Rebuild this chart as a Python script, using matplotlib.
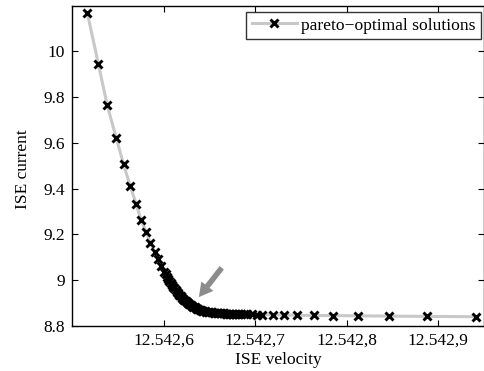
import numpy as np
import matplotlib.pyplot as plt

plt.rcParams['font.family'] = ['Liberation Serif', 'DejaVu Serif']

# pareto front (ISE velocity, ISE current)
ise_velocity = [
    12.54251678, 12.54252884, 12.54253838, 12.54254825, 12.54255625, 12.54256360,
    12.54257018, 12.54257533, 12.54258114, 12.54258553, 12.54259024, 12.54259397,
    12.54259759, 12.54260088, 12.54260250, 12.54260384, 12.54260520, 12.54260640,
    12.54260780, 12.54260910, 12.54261050, 12.54261180, 12.54261320, 12.54261460,
    12.54261600, 12.54261730, 12.54261870, 12.54262010, 12.54262150, 12.54262280,
    12.54262420, 12.54262550, 12.54262690, 12.54262830, 12.54262960, 12.54263100,
    12.54263240, 12.54263380, 12.54263520, 12.54263650, 12.54263790, 12.54263930,
    12.54264070, 12.54264200, 12.54264340, 12.54264470, 12.54264640, 12.54264800,
    12.54264970, 12.54265130, 12.54265300, 12.54265460, 12.54265630, 12.54265790,
    12.54265950, 12.54266120, 12.54266280, 12.54266450, 12.54266610, 12.54266780,
    12.54266940, 12.54267110, 12.54267270, 12.54267430, 12.54267600, 12.54267760,
    12.54267930, 12.54268090, 12.54268250, 12.54268420, 12.54268780, 12.54269160,
    12.54269700, 12.54270250, 12.54270800, 12.54271900, 12.54273170, 12.54274560,
    12.54276390, 12.54278540, 12.54281220, 12.54284570, 12.54288780, 12.54294080,
]
ise_current = [
    10.165, 9.943, 9.764, 9.622, 9.506, 9.411,
    9.331, 9.263, 9.210, 9.161, 9.124, 9.093,
    9.063, 9.037, 9.025, 9.015, 9.005, 8.997,
    8.988, 8.979, 8.971, 8.964, 8.956, 8.949,
    8.942, 8.936, 8.930, 8.924, 8.919, 8.914,
    8.909, 8.904, 8.899, 8.895, 8.891, 8.888,
    8.884, 8.881, 8.878, 8.876, 8.873, 8.871,
    8.869, 8.867, 8.8655, 8.864, 8.863, 8.862,
    8.861, 8.860, 8.859, 8.8585, 8.8578, 8.857,
    8.8565, 8.856, 8.8558, 8.8555, 8.855, 8.8545,
    8.8543, 8.854, 8.8538, 8.8537, 8.8535, 8.8533,
    8.853, 8.8528, 8.8526, 8.8524, 8.852, 8.8515,
    8.851, 8.850, 8.8498, 8.849, 8.848, 8.847,
    8.846, 8.8454, 8.8445, 8.8432, 8.8419, 8.8406,
]

xticks = [12.5426, 12.5427, 12.5428, 12.5429]
xticklabels = ['12.542,6', '12.542,7', '12.542,8', '12.542,9']
yticks = [8.8, 9.0, 9.2, 9.4, 9.6, 9.8, 10.0]
yticklabels = ['8.8', '9', '9.2', '9.4', '9.6', '9.8', '10']

fig = plt.figure(figsize=(4.85, 3.71), dpi=100)
ax = fig.add_axes([0.1485, 0.1213, 0.8495, 0.8625])

ax.plot(ise_velocity, ise_current, color='#c8c8c8', lw=2.2,
        marker='x', ms=5.3, mew=2.1, mec='black', mfc='black',
        label='pareto\u2212optimal solutions')

# grey arrow pointing at the knee
ax.annotate('', xy=(12.5426385, 8.926), xytext=(12.5426635, 9.054),
            arrowprops=dict(arrowstyle='simple,head_length=1.0,head_width=1.1,tail_width=0.4',
                            color='#8c8c8c', lw=0, shrinkA=0, shrinkB=0))

ax.set_xlim(12.5425, 12.54295)
ax.set_ylim(8.8, 10.197)
ax.set_xticks(xticks)
ax.set_xticklabels(xticklabels)
ax.set_yticks(yticks)
ax.set_yticklabels(yticklabels)
ax.tick_params(direction='in', top=True, right=True, length=4, labelsize=12.5, pad=5)
for s in ax.spines.values():
    s.set_linewidth(1)

ax.set_xlabel('ISE velocity', fontsize=12.5)
ax.set_ylabel('ISE current', fontsize=12.5)
ax.xaxis.set_label_coords(0.5, -0.082)
ax.yaxis.set_label_coords(-0.099, 0.49)

leg = ax.legend(loc='upper right', bbox_to_anchor=(0.993, 0.981), borderaxespad=0,
                fontsize=12.6, frameon=True, fancybox=False, edgecolor='black',
                borderpad=0.3, handlelength=2.6, handletextpad=0.25)
leg.get_frame().set_linewidth(1)

fig.savefig('out.png', dpi=100)
